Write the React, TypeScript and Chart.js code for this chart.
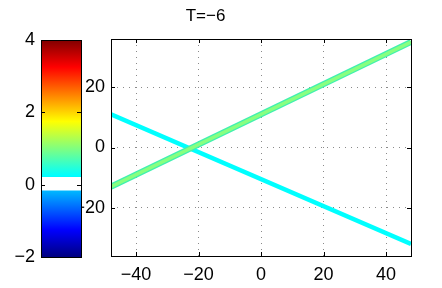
import React, { useEffect, useRef } from "react";
import { Chart, registerables } from "chart.js";

Chart.register(...registerables);

// main plot data
const lineX = [-48, 48];
const greenY = [-13, 35];
const cyanY = [11, -32];
const xTicks = [-40, -20, 0, 20, 40];
const yTicks = [-20, 0, 20];
const titleText = "T=−6";

// colorbar data
const cbRange = [-2, 4];
const cbGap = [-0.15, 0.2];
const cbTicks = [-2, 0, 2, 4];

const FONT = "'Liberation Sans', Arial, Helvetica, sans-serif";
const minus = (v: number | string) => String(v).replace("-", "−");

const jetStops: [number, string][] = [
  [0, "#000080"],
  [0.125, "#0000ff"],
  [0.375, "#00ffff"],
  [0.625, "#ffff00"],
  [0.875, "#ff0000"],
  [1, "#800000"],
];

const boxPlugin = (tickLen: number, xt: number[] | null, yt: number[]) => ({
  id: "boxTicks",
  afterDatasetsDraw(chart: any) {
    const { ctx, chartArea: a, scales } = chart;
    ctx.save();
    ctx.strokeStyle = "#000";
    ctx.lineWidth = 1;
    ctx.beginPath();
    if (xt) {
      for (const v of xt) {
        const px = Math.round(scales.x.getPixelForValue(v)) + 0.5;
        ctx.moveTo(px, a.bottom);
        ctx.lineTo(px, a.bottom - tickLen);
        ctx.moveTo(px, a.top);
        ctx.lineTo(px, a.top + tickLen);
      }
    }
    for (const v of yt) {
      const py = Math.round(scales.y.getPixelForValue(v)) + 0.5;
      ctx.moveTo(a.left, py);
      ctx.lineTo(a.left + tickLen, py);
      ctx.moveTo(a.right, py);
      ctx.lineTo(a.right - tickLen, py);
    }
    ctx.stroke();
    ctx.strokeRect(
      Math.round(a.left) + 0.5,
      Math.round(a.top) + 0.5,
      Math.round(a.right - a.left),
      Math.round(a.bottom - a.top)
    );
    ctx.restore();
  },
});

export default function App() {
  const mainRef = useRef<HTMLCanvasElement>(null);
  const cbRef = useRef<HTMLCanvasElement>(null);

  useEffect(() => {
    const mk = (ys: number[]) => lineX.map((x, i) => ({ x, y: ys[i] }));
    const main = new Chart(mainRef.current!, {
      type: "scatter",
      data: {
        datasets: [
          {
            data: mk(greenY),
            showLine: true,
            borderColor: "#88ff80",
            borderWidth: 3.5,
            pointRadius: 0,
            clip: 0,
            order: 0,
          } as any,
          {
            data: mk(greenY),
            showLine: true,
            borderColor: "#40f0b0",
            borderWidth: 6,
            pointRadius: 0,
            clip: 0,
            order: 1,
          } as any,
          {
            data: mk(cyanY),
            showLine: true,
            borderColor: "#00ffff",
            borderWidth: 4.5,
            pointRadius: 0,
            clip: 0,
            order: 2,
          } as any,
        ],
      },
      options: {
        animation: false,
        responsive: false,
        devicePixelRatio: 1,
        layout: { padding: { left: 0, right: 31, top: 0, bottom: 0 } },
        plugins: {
          legend: { display: false },
          tooltip: { enabled: false },
          title: {
            display: true,
            text: titleText,
            color: "#000",
            font: { family: FONT, size: 17, weight: "normal", lineHeight: 1.2 },
            padding: { top: 6, bottom: 12.6 },
          },
        },
        scales: {
          x: {
            type: "linear",
            min: -48,
            max: 48,
            afterBuildTicks: (s: any) => {
              s.ticks = xTicks.map((value) => ({ value }));
            },
            afterFit: (s: any) => {
              s.height = 32;
            },
            ticks: {
              color: "#000",
              font: { family: FONT, size: 18 },
              padding: 8,
              maxRotation: 0,
              callback: (v: any) => minus(v),
            },
            grid: { color: "#8a8a8a", drawTicks: false, lineWidth: 1 },
            border: { display: false, dash: [1, 5] },
          },
          y: {
            type: "linear",
            min: -36,
            max: 36,
            afterBuildTicks: (s: any) => {
              s.ticks = yTicks.map((value) => ({ value }));
            },
            afterFit: (s: any) => {
              s.width = 111;
            },
            ticks: {
              color: "#000",
              font: { family: FONT, size: 18 },
              padding: 6,
              callback: (v: any) => minus(v),
            },
            grid: { color: "#8a8a8a", drawTicks: false, lineWidth: 1 },
            border: { display: false, dash: [1, 5] },
          },
        },
      },
      plugins: [boxPlugin(4, xTicks, yTicks)],
    } as any);

    const cb = new Chart(cbRef.current!, {
      type: "bar",
      data: {
        labels: [""],
        datasets: [
          {
            data: [cbRange],
            grouped: false,
            barPercentage: 1,
            categoryPercentage: 1,
            order: 1,
            backgroundColor: (c: any) => {
              const a = c.chart.chartArea;
              if (!a) return "#00ffff";
              const g = c.chart.ctx.createLinearGradient(0, a.bottom, 0, a.top);
              for (const [p, col] of jetStops) g.addColorStop(p, col);
              return g;
            },
          } as any,
          {
            data: [cbGap],
            grouped: false,
            barPercentage: 1,
            categoryPercentage: 1,
            order: 0,
            backgroundColor: "#ffffff",
          } as any,
        ],
      },
      options: {
        animation: false,
        responsive: false,
        devicePixelRatio: 1,
        layout: { padding: { left: 0, right: 19, top: 40, bottom: 31 } },
        plugins: { legend: { display: false }, tooltip: { enabled: false } },
        scales: {
          x: { display: false },
          y: {
            type: "linear",
            min: cbRange[0],
            max: cbRange[1],
            afterBuildTicks: (s: any) => {
              s.ticks = cbTicks.map((value) => ({ value }));
            },
            afterFit: (s: any) => {
              s.width = 41;
            },
            ticks: {
              color: "#000",
              font: { family: FONT, size: 18 },
              padding: 6,
              callback: (v: any) => minus(v),
            },
            grid: { display: false, drawTicks: false },
            border: { display: false },
          },
        },
      },
      plugins: [boxPlugin(4, null, cbTicks)],
    } as any);

    return () => {
      main.destroy();
      cb.destroy();
    };
  }, []);

  return (
    <div style={{ position: "fixed", left: 0, top: 0, width: 442, height: 288, background: "#fff" }}>
      <canvas ref={mainRef} width={442} height={288} style={{ position: "absolute", left: 0, top: 0 }} />
      <canvas ref={cbRef} width={100} height={288} style={{ position: "absolute", left: 0, top: 0 }} />
    </div>
  );
}
